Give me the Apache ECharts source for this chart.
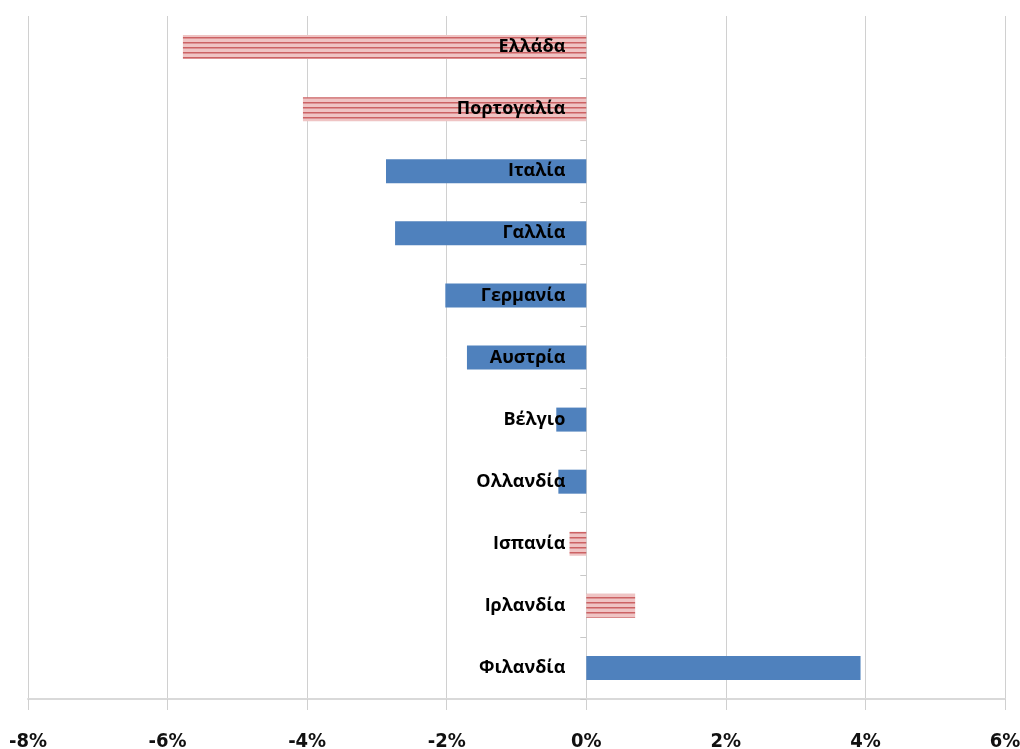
<!DOCTYPE html>
<html>
<head>
<meta charset="utf-8">
<script src="https://cdn.jsdelivr.net/npm/echarts@6/dist/echarts.min.js"></script>
<style>
html,body{margin:0;padding:0;background:#fff;}
#chart{width:1020px;height:749px;}
</style>
</head>
<body>
<div id="chart"></div>
<script>
const categories = ['Ελλάδα','Πορτογαλία','Ιταλία','Γαλλία','Γερμανία','Αυστρία','Βέλγιο','Ολλανδία','Ισπανία','Ιρλανδία','Φιλανδία'];
const values = [-5.78, -4.06, -2.87, -2.74, -2.02, -1.71, -0.43, -0.40, -0.24, 0.70, 3.93];
const striped = [true, true, false, false, false, false, false, false, true, true, false];
const xTicks = {min: -8, max: 6, step: 2};

function makeStripe() {
  const c = document.createElement('canvas');
  c.width = 8; c.height = 5;
  const ctx = c.getContext('2d');
  ctx.fillStyle = '#efc4c4';
  ctx.fillRect(0, 0, 8, 5);
  ctx.fillStyle = '#cc6264';
  ctx.fillRect(0, 2, 8, 1.5);
  return c;
}
const stripe = makeStripe();

const chart = echarts.init(document.getElementById('chart'));
chart.setOption({
  animation: false,
  backgroundColor: '#fff',
  grid: {left: 28, right: 15, top: 16, bottom: 50, containLabel: false, outerBoundsMode: 'none'},
  xAxis: {
    type: 'value',
    min: xTicks.min, max: xTicks.max, interval: xTicks.step,
    axisLine: {show: true, onZero: false, lineStyle: {color: '#d9d9d9', width: 2}},
    axisTick: {show: true, length: 11, lineStyle: {color: '#d0d0d0'}},
    splitLine: {show: true, lineStyle: {color: '#d0d0d0', width: 1}},
    axisLabel: {
      formatter: '{value}%', margin: 33,
      fontFamily: '"Liberation Sans Narrow", "DejaVu Sans Condensed", sans-serif',
      fontWeight: 'bold', fontSize: 20, color: '#111'
    }
  },
  yAxis: {
    type: 'category',
    data: categories,
    inverse: true,
    axisLine: {show: true, onZero: true, lineStyle: {color: '#d0d0d0', width: 1}},
    axisTick: {show: true, length: 6, lineStyle: {color: '#c8c8c8'}},
    splitLine: {show: false},
    axisLabel: {show: false}
  },
  series: [{
    type: 'bar',
    barWidth: 24,
    z: 2,
    data: values.map((v, i) => ({
      value: v,
      itemStyle: {color: striped[i] ? {image: stripe, repeat: 'repeat'} : '#4f81bd'}
    }))
  }, {
    type: 'scatter',
    symbolSize: 0,
    z: 10,
    silent: true,
    itemStyle: {opacity: 1},
    data: categories.map(c => [0, c]),
    label: {
      show: true, position: 'left', distance: 21,
      formatter: p => p.data[1],
      fontFamily: '"Open Sans", sans-serif',
      fontWeight: 'bold', fontSize: 18, color: '#000', opacity: 1
    }
  }]
});
</script>
</body>
</html>
